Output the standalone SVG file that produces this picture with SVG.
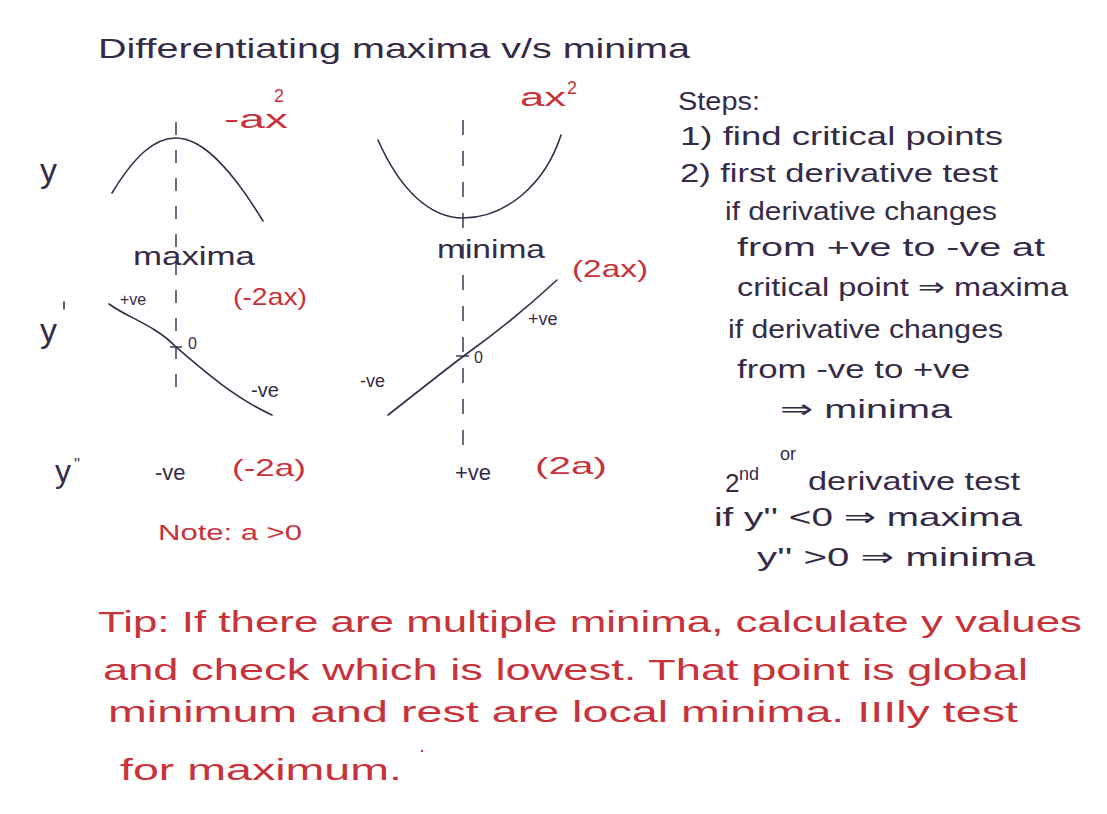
<svg xmlns="http://www.w3.org/2000/svg" width="1107" height="814" viewBox="0 0 1107 814">
<style>
text{font-family:"Liberation Sans","DejaVu Sans",sans-serif;}
.k{fill:#352b47;}
.r{fill:#c8323a;}
.c{fill:none;stroke:#352b47;stroke-width:1.6;stroke-linecap:round;}
.d{fill:none;stroke:#352b47;stroke-width:1.4;}
</style>
<rect width="1107" height="814" fill="#ffffff"/>
<g id="title"><text class="k" x="98" y="58" font-size="28" textLength="592" lengthAdjust="spacingAndGlyphs">Differentiating maxima v/s minima</text></g>
<g id="maxima-graph">
<text class="r" x="224" y="128" font-size="26" textLength="64" lengthAdjust="spacingAndGlyphs">-ax</text>
<text class="r" x="274" y="102" font-size="18">2</text>
<text class="k" x="40" y="182" font-size="34">y</text>
<path class="c" d="M112,193 C135,155 155,138 176,138 C205,138 235,175 263,221"/>
<line class="d" x1="176" y1="122" x2="176" y2="400" stroke-dasharray="13 15"/>
<text class="k" x="133" y="265" font-size="26" textLength="122" lengthAdjust="spacingAndGlyphs">maxima</text>
</g>
<g id="minima-graph">
<text class="r" x="520" y="106" font-size="26" textLength="46" lengthAdjust="spacingAndGlyphs">ax</text>
<text class="r" x="567" y="94" font-size="18">2</text>
<path class="c" d="M378,140 C400,190 430,218 463,218 C505,218 545,185 561,135"/>
<line class="d" x1="463" y1="120" x2="463" y2="445" stroke-dasharray="15 16"/>
<text class="k" x="437" y="258" font-size="26" textLength="108" lengthAdjust="spacingAndGlyphs">minima</text>
<text class="r" x="572" y="277" font-size="24" textLength="76" lengthAdjust="spacingAndGlyphs">(2ax)</text>
</g>
<g id="first-derivative">
<text class="k" x="40" y="342" font-size="34">y</text>
<line class="c" x1="64" y1="302" x2="64" y2="309"/>
<text class="k" x="120" y="305" font-size="16">+ve</text>
<text class="r" x="233" y="305" font-size="24" textLength="74" lengthAdjust="spacingAndGlyphs">(-2ax)</text>
<path class="c" d="M109,304 C128,318 155,325 176,347 C205,372 235,398 272,415"/>
<line class="d" x1="170" y1="347" x2="182" y2="347"/>
<text class="k" x="188" y="349" font-size="16">0</text>
<text class="k" x="251" y="397" font-size="20">-ve</text>
<text class="k" x="360" y="387" font-size="18">-ve</text>
<path class="c" d="M388,415 C420,390 445,370 465,355 C500,330 530,305 557,280"/>
<line class="d" x1="456" y1="356" x2="469" y2="356"/>
<text class="k" x="474" y="363" font-size="16">0</text>
<text class="k" x="528" y="325" font-size="18">+ve</text>
</g>
<g id="second-derivative">
<text class="k" x="55" y="482" font-size="32">y</text>
<text class="k" x="74" y="470" font-size="16">''</text>
<text class="k" x="155" y="480" font-size="22">-ve</text>
<text class="r" x="232" y="476" font-size="24" textLength="74" lengthAdjust="spacingAndGlyphs">(-2a)</text>
<text class="k" x="455" y="480" font-size="22">+ve</text>
<text class="r" x="535" y="474" font-size="24" textLength="72" lengthAdjust="spacingAndGlyphs">(2a)</text>
<text class="r" x="158" y="540" font-size="22" textLength="144" lengthAdjust="spacingAndGlyphs">Note: a &gt;0</text>
</g>
<g id="steps">
<text class="k" x="678" y="110" font-size="26" textLength="82" lengthAdjust="spacingAndGlyphs">Steps:</text>
<text class="k" x="680" y="145" font-size="26" textLength="323" lengthAdjust="spacingAndGlyphs">1) find critical points</text>
<text class="k" x="680" y="182" font-size="26" textLength="318" lengthAdjust="spacingAndGlyphs">2) first derivative test</text>
<text class="k" x="725" y="220" font-size="26" textLength="272" lengthAdjust="spacingAndGlyphs">if derivative changes</text>
<text class="k" x="737" y="256" font-size="26" textLength="308" lengthAdjust="spacingAndGlyphs">from +ve to -ve at</text>
<text class="k" x="737" y="296" font-size="26" textLength="331" lengthAdjust="spacingAndGlyphs">critical point ⇒ maxima</text>
<text class="k" x="728" y="338" font-size="26" textLength="275" lengthAdjust="spacingAndGlyphs">if derivative changes</text>
<text class="k" x="737" y="378" font-size="26" textLength="233" lengthAdjust="spacingAndGlyphs">from -ve to +ve</text>
<text class="k" x="780" y="418" font-size="26" textLength="172" lengthAdjust="spacingAndGlyphs">⇒ minima</text>
<text class="k" x="780" y="460" font-size="18">or</text>
<text class="k" x="725" y="492" font-size="26">2</text>
<text class="k" x="739" y="480" font-size="18">nd</text>
<text class="k" x="808" y="490" font-size="26" textLength="212" lengthAdjust="spacingAndGlyphs">derivative test</text>
<text class="k" x="714" y="526" font-size="26" textLength="308" lengthAdjust="spacingAndGlyphs">if y'' &lt;0 ⇒ maxima</text>
<text class="k" x="757" y="566" font-size="26" textLength="278" lengthAdjust="spacingAndGlyphs">y'' &gt;0 ⇒ minima</text>
</g>
<g id="tip">
<text class="r" x="98" y="632" font-size="30" textLength="984" lengthAdjust="spacingAndGlyphs">Tip: If there are multiple minima, calculate y values</text>
<text class="r" x="103" y="680" font-size="30" textLength="925" lengthAdjust="spacingAndGlyphs">and check which is lowest. That point is global</text>
<text class="r" x="108" y="722" font-size="30" textLength="910" lengthAdjust="spacingAndGlyphs">minimum and rest are local minima. IIIly test</text>
<circle cx="422" cy="751" r="1.2" fill="#c8323a"/>
<text class="r" x="120" y="780" font-size="30" textLength="282" lengthAdjust="spacingAndGlyphs">for maximum.</text>
</g>
</svg>
